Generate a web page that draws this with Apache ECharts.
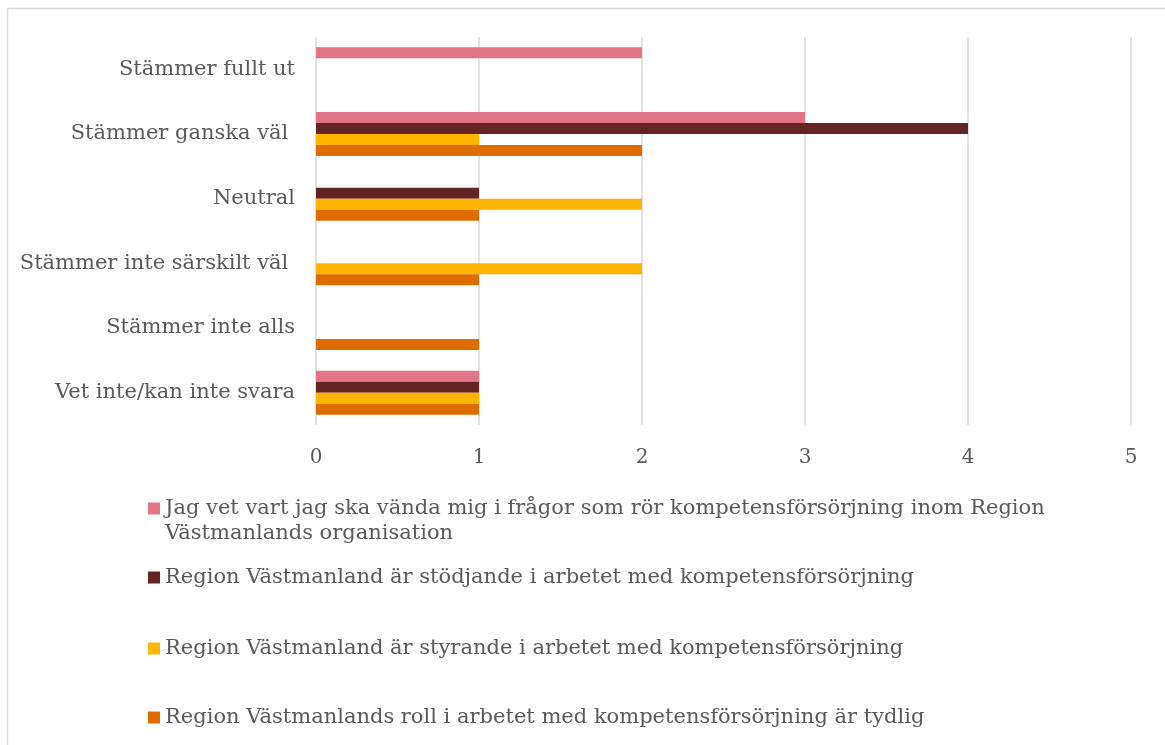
<!DOCTYPE html>
<html>
<head>
<meta charset="utf-8">
<script src="https://cdn.jsdelivr.net/npm/echarts@6/dist/echarts.min.js"></script>
<style>
  html, body { margin: 0; padding: 0; background: #fff; }
  #chart { width: 1165px; height: 745px; }
</style>
</head>
<body>
<div id="chart"></div>
<script>
  // categories, top to bottom
  const categories = ['Stämmer fullt ut', 'Stämmer ganska väl ', 'Neutral', 'Stämmer inte särskilt väl ', 'Stämmer inte alls', 'Vet inte/kan inte svara']
  const seriesNames = [
    'Jag vet vart jag ska vända mig i frågor som rör kompetensförsörjning inom Region Västmanlands organisation',
    'Region Västmanland är stödjande i arbetet med kompetensförsörjning',
    'Region Västmanland är styrande i arbetet med kompetensförsörjning',
    'Region Västmanlands roll i arbetet med kompetensförsörjning är tydlig'
  ]
  const vetVart = [2, 3, 0, 0, 0, 1]
  const stodjande = [0, 4, 1, 0, 0, 1]
  const styrande = [0, 1, 2, 2, 0, 1]
  const tydlig = [0, 2, 1, 1, 1, 1]
  const colors = ['#E27588', '#632423', '#FFB400', '#DE6C00']

  const font = 'DejaVu Serif'
  const textColor = '#595959'

  const chart = echarts.init(document.getElementById('chart'))

  function bar(name, data, color) {
    return {
      name: name,
      type: 'bar',
      barWidth: 11,
      barGap: 0,
      itemStyle: { color: color },
      data: data
    }
  }

  const legendTops = [496, 565, 636, 705]

  chart.setOption({
    backgroundColor: '#fff',
    animation: false,
    graphic: [{
      type: 'rect',
      shape: { x: 7.5, y: 8.5, width: 1200, height: 800 },
      style: { fill: null, stroke: '#d9d9d9', lineWidth: 1.5 },
      silent: true
    }],
    grid: {
      left: 316,
      right: 34,
      top: 37,
      bottom: 320
    },
    xAxis: {
      type: 'value',
      min: 0,
      max: 5,
      interval: 1,
      axisLine: { show: false },
      axisTick: { show: false },
      splitLine: { lineStyle: { color: '#d9d9d9', width: 1.5 } },
      axisLabel: {
        margin: 23,
        color: textColor,
        fontFamily: font,
        fontSize: 20
      }
    },
    yAxis: {
      type: 'category',
      inverse: true,
      data: categories,
      axisLine: { show: false },
      axisTick: { show: false },
      axisLabel: {
        margin: 21,
        color: textColor,
        fontFamily: font,
        fontSize: 21
      }
    },
    legend: seriesNames.map((n, i) => ({
      data: [n],
      left: 148,
      top: legendTops[i],
      padding: 0,
      itemWidth: 12,
      itemHeight: i === 0 ? 37 : 12,
      itemGap: 0,
      icon: i === 0 ? 'path://M0,0h12v12h-12zM0,37' : 'rect',
      formatter: function (name) {
        return name.replace(' Västmanlands organisation', '\nVästmanlands organisation')
      },
      textStyle: {
        color: textColor,
        fontFamily: font,
        fontSize: 21,
        lineHeight: 25,
        padding: [0, 0, 0, 0]
      }
    })),
    series: [
      bar(seriesNames[0], vetVart, colors[0]),
      bar(seriesNames[1], stodjande, colors[1]),
      bar(seriesNames[2], styrande, colors[2]),
      bar(seriesNames[3], tydlig, colors[3])
    ]
  })
</script>
</body>
</html>
